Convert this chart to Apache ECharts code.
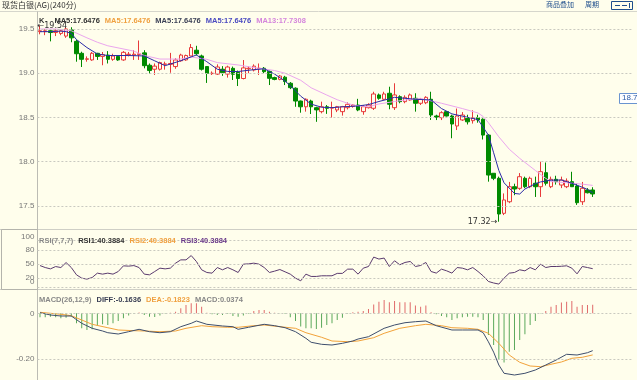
<!DOCTYPE html>
<html><head><meta charset="utf-8">
<script src="https://cdn.jsdelivr.net/npm/echarts@6/dist/echarts.min.js"></script>
<style>html,body{margin:0;padding:0;background:#fffeec;}#c{width:637px;height:380px;}</style>
</head><body><div id="c"></div>
<script>
const slotCount = 114;
const openP = [19.47,19.47,19.48,19.46,19.45,19.42,19.49,19.36,19.225,19.157,
19.15,19.225,19.19,19.205,19.157,19.19,19.15,19.21,19.205,19.21,
19.23,19.09,19.045,19.045,19.10,19.10,19.075,19.14,19.15,19.195,
19.26,19.195,19.075,18.995,18.99,19.045,18.99,19.055,19.01,18.94,
19.05,19.036,19.05,19.056,19.02,18.95,18.93,18.955,18.886,18.83,
18.685,18.62,18.685,18.61,18.565,18.62,18.605,18.584,18.565,18.61,
18.625,18.64,18.565,18.61,18.603,18.754,18.705,18.773,18.61,18.734,
18.678,18.697,18.716,18.66,18.666,18.705,18.516,18.497,18.565,18.516,
18.403,18.471,18.49,18.463,18.497,18.479,18.30,17.868,17.811,17.415,
17.546,17.716,17.698,17.811,17.716,17.755,17.716,17.875,17.716,17.80,
17.735,17.716,17.773,17.724,17.546,17.679,17.679];
const closeP = [19.48,19.48,19.46,19.48,19.48,19.50,19.40,19.22,19.157,19.163,
19.225,19.19,19.21,19.157,19.195,19.15,19.236,19.215,19.215,19.22,
19.085,19.03,19.08,19.12,19.105,19.11,19.15,19.205,19.20,19.29,
19.22,19.045,18.998,19.00,19.07,19.005,19.07,18.988,18.94,19.06,
19.056,19.08,19.056,19.017,18.942,18.93,18.968,18.905,18.836,18.685,
18.62,18.705,18.62,18.585,18.62,18.603,18.61,18.621,18.621,18.648,
18.64,18.584,18.621,18.64,18.765,18.716,18.765,18.648,18.754,18.678,
18.727,18.754,18.66,18.705,18.727,18.527,18.50,18.553,18.516,18.425,
18.516,18.527,18.45,18.497,18.471,18.30,17.848,17.811,17.407,17.566,
17.716,17.69,17.829,17.716,17.811,17.716,17.886,17.755,17.80,17.773,
17.792,17.78,17.716,17.535,17.698,17.648,17.634];
const highP = [19.54,19.50,19.50,19.50,19.50,19.52,19.52,19.38,19.243,19.19,
19.24,19.23,19.24,19.25,19.22,19.20,19.25,19.24,19.26,19.37,
19.26,19.11,19.11,19.13,19.13,19.23,19.17,19.22,19.21,19.33,
19.31,19.21,19.08,19.02,19.10,19.08,19.085,19.075,19.03,19.149,
19.08,19.10,19.11,19.07,19.03,18.96,18.98,18.97,18.90,18.84,
18.69,18.715,18.70,18.62,18.678,18.64,18.678,18.63,18.63,18.67,
18.65,18.71,18.64,18.66,18.79,18.77,18.79,18.847,18.886,18.75,
18.75,18.77,18.773,18.72,18.74,18.79,18.53,18.57,18.57,18.53,
18.60,18.56,18.53,18.58,18.53,18.49,18.31,17.87,17.83,17.64,
17.77,17.75,17.87,17.83,17.83,17.83,17.999,17.99,17.83,17.84,
17.83,17.81,17.885,17.75,17.77,17.70,17.71];
const lowP = [19.44,19.43,19.36,19.42,19.43,19.40,19.35,19.13,19.07,19.13,
19.14,19.15,19.09,19.11,19.14,19.14,19.14,19.19,19.15,19.15,
19.055,18.995,18.98,19.03,19.04,19.005,19.05,19.13,19.14,19.19,
19.20,19.03,18.89,18.98,18.98,18.97,18.95,18.923,18.855,18.93,
19.00,19.02,18.98,19.00,18.866,18.92,18.92,18.866,18.82,18.62,
18.553,18.565,18.538,18.45,18.546,18.54,18.497,18.56,18.52,18.59,
18.61,18.57,18.53,18.60,18.584,18.70,18.70,18.592,18.584,18.66,
18.66,18.69,18.565,18.64,18.65,18.471,18.47,18.47,18.51,18.264,
18.357,18.46,18.42,18.43,18.44,18.25,17.773,17.79,17.32,17.395,
17.53,17.62,17.68,17.70,17.70,17.60,17.60,17.73,17.70,17.74,
17.70,17.70,17.716,17.51,17.51,17.64,17.60];
const ma5 = [[0,19.47],[2,19.47],[4,19.476],[5,19.47],[6,19.45],[7,19.38],[9,19.29],[11,19.217],[13,19.2],[17,19.2],[20,19.195],[22,19.14],[24,19.085],[27,19.141],[30,19.206],[32,19.13],[34,19.045],[36,19.02],[38,19.019],[41,19.04],[43,19.05],[45,18.99],[47,18.91],[48,18.86],[50,18.74],[52,18.65],[54,18.615],[56,18.61],[58,18.62],[61,18.629],[63,18.645],[65,18.68],[67,18.71],[68,18.727],[70,18.716],[72,18.705],[75,18.697],[77,18.6],[79,18.54],[81,18.514],[82,18.501],[84,18.475],[86,18.3],[87,18.1],[88,17.9],[89,17.76],[91,17.64],[92,17.633],[93,17.69],[95,17.75],[96,17.77],[98,17.79],[100,17.792],[102,17.755],[104,17.71],[105,17.685],[106,17.6476]];
const ma13 = [[0,19.50],[3,19.50],[6,19.48],[9,19.40],[11,19.35],[13,19.31],[18,19.25],[20,19.2],[23,19.16],[27,19.16],[29,19.183],[32,19.157],[34,19.12],[38,19.093],[42,19.055],[45,19.03],[47,19.0],[50,18.92],[52,18.835],[55,18.753],[57,18.7],[60,18.64],[63,18.62],[65,18.652],[68,18.68],[70,18.697],[73,18.714],[77,18.66],[81,18.6],[84,18.55],[85,18.51],[86,18.44],[88,18.28],[90,18.14],[92,18.037],[95,17.9],[97,17.81],[98,17.775],[101,17.761],[104,17.745],[106,17.7308]];
const rsi = [47.0,42.8,40.0,44.9,42.8,53.4,42.8,27.3,20.3,18.2,
21.6,30.9,28.8,30.9,28.8,34.3,46.4,45.8,47.0,42.8,
28.8,27.3,34.3,41.5,40.0,41.5,52.1,59.1,59.1,68.2,
55.5,38.0,32.3,30.9,42.8,38.0,42.8,38.0,32.3,50.0,
50.6,52.1,50.0,42.8,32.3,35.2,38.6,33.7,28.8,20.3,
14.6,28.8,23.9,23.9,25.3,25.3,25.3,30.4,30.4,39.4,
39.4,28.8,41.5,45.0,65.0,60.8,62.9,45.0,57.2,48.7,
53.6,55.7,45.0,47.2,53.6,34.4,31.0,39.4,35.8,31.0,
42.8,41.5,38.0,42.8,34.4,25.0,13.2,10.0,7.7,20.3,
30.9,32.3,38.0,35.8,42.8,38.0,50.0,42.8,45.0,45.0,
45.5,46.5,41.5,29.4,45.0,42.8,40.39];
const diff = [[0,0.0026],[2,-0.0074],[4,-0.0118],[6,-0.0118],[8,-0.0438],[10,-0.0657],[12,-0.0775],[13,-0.085],[15,-0.0907],[17,-0.0806],[19,-0.0701],[21,-0.0806],[23,-0.085],[25,-0.0806],[27,-0.0587],[29,-0.0438],[30,-0.0337],[32,-0.0482],[35,-0.0556],[37,-0.0587],[38,-0.0701],[40,-0.0613],[43,-0.0482],[45,-0.0543],[47,-0.0631],[49,-0.0806],[51,-0.1095],[52,-0.127],[54,-0.1358],[56,-0.1389],[58,-0.1314],[60,-0.1213],[61,-0.1126],[63,-0.1025],[66,-0.0657],[68,-0.0512],[70,-0.0412],[72,-0.0368],[74,-0.0337],[76,-0.0543],[79,-0.0731],[81,-0.0731],[84,-0.0731],[85,-0.085],[86,-0.125],[87,-0.17],[88,-0.2265],[89,-0.2628],[91,-0.2703],[93,-0.2628],[95,-0.2484],[97,-0.2265],[99,-0.2046],[101,-0.1796],[103,-0.1827],[105,-0.1726],[106,-0.1636]];
const dea = [[0,0.0044],[4,-0.0044],[6,-0.0105],[8,-0.0293],[10,-0.0482],[13,-0.0631],[15,-0.0731],[18,-0.0762],[20,-0.0775],[23,-0.0806],[26,-0.0775],[28,-0.0657],[31,-0.0543],[33,-0.0587],[36,-0.0613],[38,-0.0613],[41,-0.0543],[43,-0.0512],[46,-0.0587],[49,-0.0657],[51,-0.085],[54,-0.105],[56,-0.1213],[59,-0.1244],[61,-0.1213],[64,-0.1069],[66,-0.0876],[69,-0.0657],[72,-0.0543],[74,-0.0482],[77,-0.0543],[79,-0.0631],[82,-0.0657],[84,-0.0701],[86,-0.0876],[88,-0.1314],[90,-0.1827],[92,-0.2146],[94,-0.2308],[96,-0.2339],[98,-0.2234],[100,-0.2133],[102,-0.1971],[104,-0.1927],[106,-0.1823]];
const macdHist = [-0.0175,-0.0175,-0.0146,-0.0175,-0.022,-0.019,-0.0146,-0.0438,-0.0657,-0.073,
-0.070,-0.054,-0.048,-0.051,-0.044,-0.034,-0.022,-0.010,-0.002,0.003,
-0.007,-0.0146,-0.016,-0.010,-0.002,0.002,0.0073,0.022,0.0365,0.044,
0.044,0.029,0.002,-0.0044,-0.0073,-0.0073,-0.003,-0.0117,-0.0146,-0.010,
-0.002,0.010,0.0146,0.0146,0.0073,0.002,-0.001,-0.003,-0.0175,-0.034,
-0.058,-0.066,-0.066,-0.069,-0.063,-0.051,-0.044,-0.029,-0.019,-0.002,
0.0044,0.0073,0.010,0.019,0.039,0.051,0.058,0.048,0.054,0.048,
0.048,0.048,0.034,0.029,0.034,0.0044,-0.0044,-0.0117,-0.0175,-0.029,
-0.022,-0.0175,-0.0146,-0.0146,-0.0175,-0.029,-0.095,-0.139,-0.204,-0.215,
-0.168,-0.161,-0.117,-0.092,-0.051,-0.034,-0.001,0.010,0.029,0.0365,
0.047,0.051,0.054,0.029,0.0365,0.0365,0.0374];
const priceTicks = [17.5, 18.0, 18.5, 19.0, 19.5];
const rsiTicks = [0, 20, 50, 80, 100];
const macdTicks = [-0.2, 0];
const highMark = {idx: 0, value: 19.54};
const lowMark = {idx: 88, value: 17.32};

const slots = Array.from({length: slotCount}, (_, i) => String(i + 1));
const candles = openP.map((o, i) => [o, closeP[i], lowP[i], highP[i]]);

const BG = '#fffeec';
const LF = 'Liberation Sans';
const gridL = 37.4, gridW = 594.4;
const grid = [
  {left: gridL, width: gridW, top: 17, height: 212},
  {left: gridL, width: gridW, top: 240.6, height: 47.1},
  {left: gridL, width: gridW, top: 292, height: 86}
];
const xAxis = [0,1,2].map(g => ({type:'category', gridIndex:g, data:slots, show:false}));
const axisLbl = {color:'#777', fontSize:8, fontFamily:LF, margin:3};
const near = (a,b) => Math.abs(a-b) < 1e-6;
const yAxis = [
  {type:'value', gridIndex:0, min:17.2376, max:19.6357, splitNumber:5,
   axisLine:{show:false}, axisTick:{show:false}, splitLine:{show:false},
   axisLabel:Object.assign({}, axisLbl, {formatter: v => priceTicks.some(t => near(t,v)) ? v.toFixed(1) : ''})},
  {type:'value', gridIndex:1, min:0, max:100, interval:10,
   axisLine:{show:false}, axisTick:{show:false}, splitLine:{show:false},
   axisLabel:Object.assign({}, axisLbl, {
     formatter: v => !rsiTicks.some(t => near(t,v)) ? '' : (v===100 ? '{t|100}' : v===0 ? '{z|0}' : String(v)),
     rich: {t:{color:'#777', fontSize:8, fontFamily:LF, padding:[0,0,7,0]}, z:{color:'#777', fontSize:8, fontFamily:LF, padding:[0,0,11,0]}}
   })},
  {type:'value', gridIndex:2, min:-0.2834, max:0.0933, splitNumber:4,
   axisLine:{show:false}, axisTick:{show:false}, splitLine:{show:false},
   axisLabel:Object.assign({}, axisLbl, {formatter: v => near(v,0) ? '0' : near(v,-0.2) ? '-0.20' : ''})}
];
const gridLine = (vals) => ({silent:true, symbol:['none','none'], label:{show:false},
  lineStyle:{color:'#c9c9c0', type:[2,2], width:1}, emphasis:{disabled:true},
  data: vals.map(v => ({yAxis:v}))});

const series = [
  {type:'candlestick', xAxisIndex:0, yAxisIndex:0, data:candles, barWidth:4,
   itemStyle:{color:BG, color0:'#008a00', borderColor:'#e83a3a', borderColor0:'#008a00', borderWidth:1},
   markLine: gridLine(priceTicks),
   markPoint: {symbol:'circle', symbolSize:1, itemStyle:{color:'rgba(0,0,0,0)'}, silent:true,
     data:[
       {coord:[highMark.idx, highMark.value], label:{show:true, position:'right', distance:0, offset:[-3,0], formatter:'←' + highMark.value.toFixed(2), color:'#333', fontSize:8, fontFamily:'DejaVu Sans'}},
       {coord:[lowMark.idx, lowMark.value], label:{show:true, position:'left', distance:1, formatter:lowMark.value.toFixed(2) + '→', color:'#333', fontSize:8, fontFamily:'DejaVu Sans'}}
     ]}},
  {type:'line', xAxisIndex:0, yAxisIndex:0, data:ma13, showSymbol:false, lineStyle:{color:'#eba6ee', width:1}, z:3},
  {type:'line', xAxisIndex:0, yAxisIndex:0, data:ma5, showSymbol:false, lineStyle:{color:'#2b2ba6', width:1}, z:4},
  {type:'line', xAxisIndex:1, yAxisIndex:1, data:rsi, showSymbol:false, lineStyle:{color:'#5a3a6e', width:1}, markLine: gridLine(rsiTicks)},
  {type:'bar', xAxisIndex:2, yAxisIndex:2, data:macdHist, barWidth:1,
   itemStyle:{color: p => p.value >= 0 ? '#e06a6a' : '#5aa85a'}, markLine: gridLine(macdTicks)},
  {type:'line', xAxisIndex:2, yAxisIndex:2, data:dea, showSymbol:false, lineStyle:{color:'#f2a23a', width:1}},
  {type:'line', xAxisIndex:2, yAxisIndex:2, data:diff, showSymbol:false, lineStyle:{color:'#3e4e6c', width:1}}
];

const rt = (c) => ({color:c, fontSize:7.5, fontFamily:LF});
const title = [
  {left:2, top:1, padding:0, text:'现货白银(AG)(240分)', textStyle:{fontSize:8, color:'#333', fontWeight:'normal', fontFamily:'Noto Sans CJK SC'}},
  {left:546, top:1, padding:0, text:'商品叠加', textStyle:{fontSize:7, color:'#1f4e8c', fontWeight:'normal', fontFamily:'Noto Sans CJK SC'}},
  {left:585, top:1, padding:0, text:'周期', textStyle:{fontSize:7, color:'#1f4e8c', fontWeight:'normal', fontFamily:'Noto Sans CJK SC'}},
  {left:39, top:12, padding:0, text:'{k|K}  {a|MA5:17.6476} {b|MA5:17.6476} {c|MA5:17.6476} {d|MA5:17.6476} {e|MA13:17.7308}',
   textStyle:{rich:{k:rt('#333'), a:rt('#333'), b:rt('#f0a040'), c:rt('#3a3f55'), d:rt('#4a4ac0'), e:rt('#d585dc')}}},
  {left:39, top:232, padding:0, text:'{g|RSI(7,7,7)} {a|RSI1:40.3884} {b|RSI2:40.3884} {c|RSI3:40.3884}',
   textStyle:{rich:{g:rt('#888'), a:rt('#333'), b:rt('#f0a040'), c:rt('#6a3a8a')}}},
  {left:39, top:291, padding:0, text:'{g|MACD(26,12,9)} {a|DIFF:-0.1636} {b|DEA:-0.1823} {c|MACD:0.0374}',
   textStyle:{rich:{g:rt('#888'), a:rt('#3a3f55'), b:rt('#f0a040'), c:rt('#888')}}},
  {left:622, top:94, padding:0, text:'18.7', textStyle:{fontSize:8, color:'#2b5ca8', fontWeight:'normal', fontFamily:LF}}
];
const ln = (x1,y1,x2,y2,c) => ({type:'line', shape:{x1,y1,x2,y2}, style:{stroke:c||'#cfcfc6', lineWidth:1}, silent:true, z:-1});
const graphic = [
  ln(0,11.5,637,11.5,'#d6d6cc'),
  ln(0,229.5,637,229.5),
  ln(0,289.5,637,289.5),
  ln(37.5,11.5,37.5,380,'#bcbcb4'),
  {type:'rect', shape:{x:1.5, y:229.5, width:36, height:60}, style:{fill:'none', stroke:'#b4b4ac', lineWidth:1}, silent:true, z:-1},
  {type:'rect', shape:{x:619.5, y:93.5, width:22, height:10}, style:{fill:'#ffffff', stroke:'#6a94d0', lineWidth:1}, silent:true, z:-1},
  {type:'rect', shape:{x:611.5, y:1.5, width:21, height:8}, style:{fill:'none', stroke:'#1f4e8c', lineWidth:1}, silent:true},
  ln(615,5.5,620,5.5,'#1f4e8c'), ln(622,5.5,627,5.5,'#1f4e8c'), ln(629.5,3,629.5,8,'#1f4e8c')
];

const chart = echarts.init(document.getElementById('c'), null, {renderer:'canvas'});
chart.setOption({backgroundColor:BG, animation:false, grid, xAxis, yAxis, series, title, graphic});
</script></body></html>
